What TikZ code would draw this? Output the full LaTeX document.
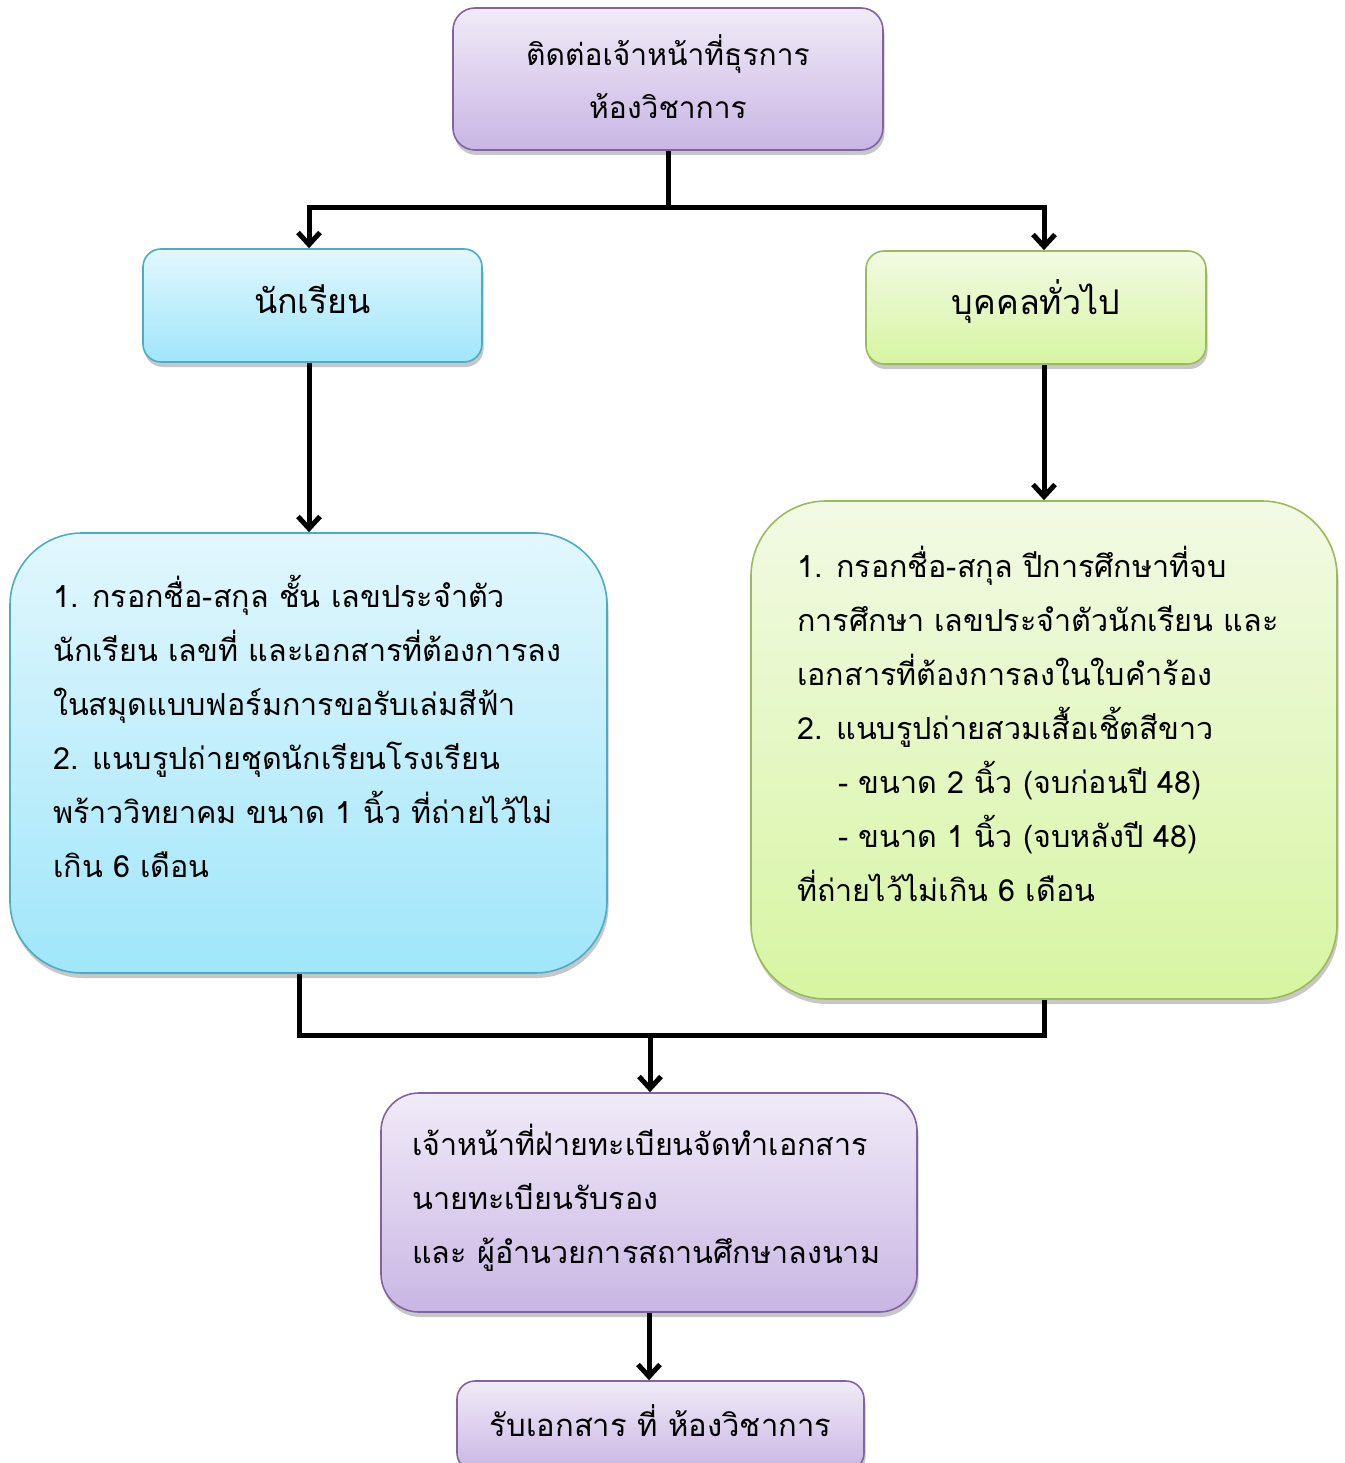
\documentclass[tikz,border=0pt]{standalone}
\usepackage{fontspec}
\newfontfamily\thai[Script=Thai]{Loma}
\usetikzlibrary{arrows.meta,shadows}
\definecolor{pBorder}{HTML}{8064A2}
\definecolor{pTop}{HTML}{F1EBF8}
\definecolor{pBot}{HTML}{C9B6E4}
\definecolor{bBorder}{HTML}{4BACC6}
\definecolor{bTop}{HTML}{E2F7FD}
\definecolor{bBot}{HTML}{A0E6FA}
\definecolor{gBorder}{HTML}{9BBB59}
\definecolor{gTop}{HTML}{F2FAE4}
\definecolor{gBot}{HTML}{D7F5A2}
\tikzset{
  boxbase/.style={rectangle, line width=1.6pt, inner sep=0pt,
    drop shadow={shadow xshift=1.5pt, shadow yshift=-5pt, opacity=0.22, fill=black}},
  purplebox/.style={boxbase, draw=pBorder, top color=pTop, bottom color=pBot},
  bluebox/.style={boxbase, draw=bBorder, top color=bTop, bottom color=bBot},
  greenbox/.style={boxbase, draw=gBorder, top color=gTop, bottom color=gBot},
  bodytext/.style={font=\thai\fontsize{30.5}{54}\selectfont, align=left, inner sep=0pt},
  titletext/.style={font=\thai\fontsize{34}{56}\selectfont, align=center},
  conn/.style={line width=5pt, black},
  arr/.style={conn, -{Straight Barb[length=12pt, width=22pt]}},
}
\begin{document}
\begin{tikzpicture}[x=1pt, y=-1pt]
\useasboundingbox (0,0) rectangle (1344,1463);
% boxes
\node[purplebox, rounded corners=22pt, minimum width=430pt, minimum height=142pt] (top) at (668,79) {};
\node[font=\thai\fontsize{30}{53}\selectfont, align=center] (toptext) at (668,77)
  {ติดต่อเจ้าหน้าที่ธุรการ\\ห้องวิชาการ};
\node[bluebox, rounded corners=18pt, minimum width=339pt, minimum height=113pt] (stu) at (312.5,305.5) {};
\node[titletext] (stutext) at (312.5,299) {นักเรียน};
\node[greenbox, rounded corners=18pt, minimum width=340pt, minimum height=113pt] (gen) at (1036,307.5) {};
\node[titletext] (gentext) at (1036,301) {บุคคลทั่วไป};
\node[bluebox, rounded corners=72pt, minimum width=597pt, minimum height=440pt] (bigL) at (308.5,753) {};
\node[greenbox, rounded corners=75pt, minimum width=586pt, minimum height=498pt] (bigR) at (1044,750) {};
\node[purplebox, rounded corners=38pt, minimum width=536pt, minimum height=219pt] (reg) at (649,1202.5) {};
\node[purplebox, rounded corners=18pt, minimum width=407pt, minimum height=90pt] (recv) at (660.5,1426) {};
\node[font=\thai\fontsize{31}{56}\selectfont] (recvtext) at (660.5,1421) {รับเอกสาร ที่ ห้องวิชาการ};
% texts
\node[bodytext, anchor=north west] (bigLtext) at (53,575)
  {1. กรอกชื่อ-สกุล ชั้น เลขประจำตัว\\
   นักเรียน เลขที่ และเอกสารที่ต้องการลง\\
   ในสมุดแบบฟอร์มการขอรับเล่มสีฟ้า\\
   2. แนบรูปถ่ายชุดนักเรียนโรงเรียน\\
   พร้าววิทยาคม ขนาด 1 นิ้ว ที่ถ่ายไว้ไม่\\
   เกิน 6 เดือน};
\node[bodytext, anchor=north west] (bigRtext) at (797,546)
  {1. กรอกชื่อ-สกุล ปีการศึกษาที่จบ\\
   การศึกษา เลขประจำตัวนักเรียน และ\\
   เอกสารที่ต้องการลงในใบคำร้อง\\
   2. แนบรูปถ่ายสวมเสื้อเชิ้ตสีขาว\\
   \hspace*{41pt}- ขนาด 2 นิ้ว (จบก่อนปี 48)\\
   \hspace*{41pt}- ขนาด 1 นิ้ว (จบหลังปี 48)\\
   ที่ถ่ายไว้ไม่เกิน 6 เดือน};
\node[bodytext, anchor=north west] (regtext) at (412,1124)
  {เจ้าหน้าที่ฝ่ายทะเบียนจัดทำเอกสาร\\
   นายทะเบียนรับรอง\\
   และ ผู้อำนวยการสถานศึกษาลงนาม};
% connectors
\coordinate (j1) at ([yshift=-57pt]top.south);
\coordinate (j2) at (650,1035);
\draw[conn] (top.south) -- (j1);
\draw[arr] (j1) -| ([xshift=-3.5pt]stu.north);
\draw[arr] (j1) -| (bigR.north |- gen.north);
\draw[arr] ([xshift=-3.5pt]stu.south) -- ([xshift=-3.5pt]stu.south |- bigL.north);
\draw[arr] (bigR.north |- gen.south) -- (bigR.north);
\draw[conn] ([xshift=-9.5pt]bigL.south) |- (j2) -| (bigR.south);
\draw[arr] (j2) -- (j2 |- reg.north);
\draw[arr] (reg.south) -- (reg.south |- recv.north);
\end{tikzpicture}
\end{document}
